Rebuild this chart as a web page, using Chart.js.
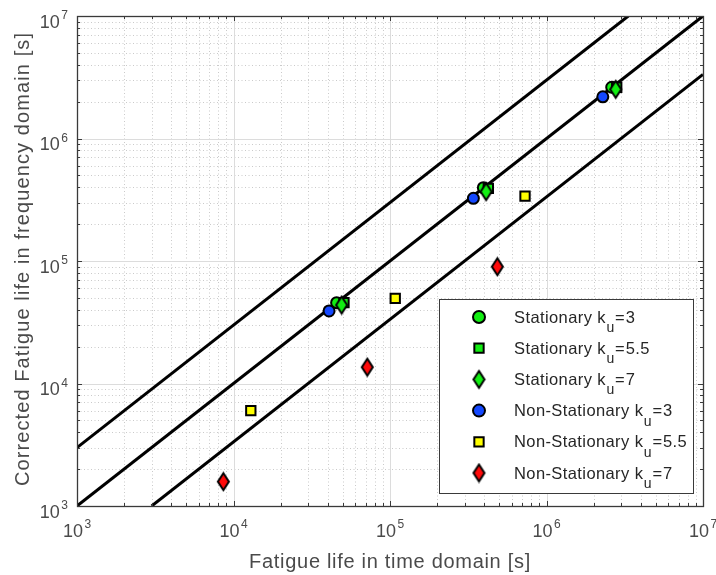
<!DOCTYPE html>
<html>
<head>
<meta charset="utf-8">
<title>Fatigue life: time vs frequency domain</title>
<script src="https://cdn.jsdelivr.net/npm/chart.js@4.4.0/dist/chart.umd.min.js"></script>
<style>
  html, body { margin: 0; padding: 0; background: #ffffff; }
  #wrap { width: 716px; height: 575px; }
</style>
</head>
<body>
<div id="wrap"><canvas id="chart" width="716" height="575"></canvas></div>
<script>
// ---- data -----------------------------------------------------------------
// Legend entries: signal type and kurtosis k_u
const seriesGroups   = ['Stationary', 'Stationary', 'Stationary',
                        'Non-Stationary', 'Non-Stationary', 'Non-Stationary'];
const kurtosisLabels = ['3', '5.5', '7', '3', '5.5', '7'];

// Fatigue life in time domain [s] (x) and corrected life in frequency domain [s] (y)
const stationaryK3X    = [4.56e4, 3.95e5, 2.61e6];
const stationaryK3Y    = [4.57e4, 3.97e5, 2.62e6];
const stationaryK55X   = [5.08e4, 4.25e5, 2.81e6];
const stationaryK55Y   = [4.57e4, 3.92e5, 2.62e6];
const stationaryK7X    = [4.91e4, 4.11e5, 2.77e6];
const stationaryK7Y    = [4.37e4, 3.68e5, 2.52e6];
const nonStationaryK3X  = [4.08e4, 3.41e5, 2.29e6];
const nonStationaryK3Y  = [3.91e4, 3.25e5, 2.19e6];
const nonStationaryK55X = [1.29e4, 1.08e5, 7.29e5];
const nonStationaryK55Y = [6.0e3, 4.96e4, 3.39e5];
const nonStationaryK7X  = [8.61e3, 7.16e4, 4.85e5];
const nonStationaryK7Y  = [1.58e3, 1.36e4, 8.98e4];

// Reference lines: factor-of-3 band around the 1:1 line
const upperBandX = [1e3, 3.333e6];
const upperBandY = [3e3, 1e7];
const equalityX  = [1e3, 1e7];
const equalityY  = [1e3, 1e7];
const lowerBandX = [3e3, 1e7];
const lowerBandY = [1e3, 3.333e6];

// Axis ticks (decades) and minor tick multipliers
const axisMin = 1e3;
const axisMax = 1e7;
const majorTicks = [1e3, 1e4, 1e5, 1e6, 1e7];
const minorSteps = [2, 3, 4, 5, 6, 7, 8, 9];

const xTitle = 'Fatigue life in time domain [s]';
const yTitle = 'Corrected Fatigue life in frequency domain [s]';

// ---- helpers ----------------------------------------------------------------
const zip = (xs, ys) => xs.map((x, i) => ({ x: x, y: ys[i] }));
const minorTicks = [];
majorTicks.slice(0, -1).forEach(d => minorSteps.forEach(s => minorTicks.push(d * s)));

const FONT = '"Liberation Sans", Arial, Helvetica, sans-serif';
const TEXT = '#4a4a4a';

// Tall diamond marker drawn once into a small canvas
function diamond(fill, w, h) {
  const c = document.createElement('canvas');
  c.width = w + 4; c.height = h + 4;
  const g = c.getContext('2d');
  const cx = c.width / 2, cy = c.height / 2;
  g.beginPath();
  g.moveTo(cx, cy - h / 2);
  g.lineTo(cx + w / 2, cy);
  g.lineTo(cx, cy + h / 2);
  g.lineTo(cx - w / 2, cy);
  g.closePath();
  g.fillStyle = fill; g.fill();
  g.lineWidth = 2; g.strokeStyle = '#000000'; g.lineJoin = 'miter';
  g.stroke();
  return c;
}

const GREEN = '#12ee12', BLUE = '#1448ff', YELLOW = '#ffff00', RED = '#ff0a0a';

function markerSet(idx, xs, ys, style, fill) {
  const ds = {
    type: 'scatter',
    label: seriesGroups[idx] + ' k_u=' + kurtosisLabels[idx],
    data: zip(xs, ys),
    backgroundColor: fill,
    borderColor: '#000000',
    borderWidth: 2,
    order: 6 - idx,
    showLine: false
  };
  if (style === 'circle') { ds.pointStyle = 'circle'; ds.pointRadius = 5.5; }
  if (style === 'rect')   { ds.pointStyle = 'rect'; ds.pointRadius = 6.6; }
  if (style === 'diamond') { ds.pointStyle = diamond(fill, 11, 17); ds.pointRadius = 8; }
  ds.pointHoverRadius = ds.pointRadius;
  return ds;
}

function refLine(xs, ys) {
  return {
    type: 'line',
    label: '',
    data: zip(xs, ys),
    borderColor: '#000000',
    borderWidth: 3,
    pointRadius: 0,
    fill: false,
    order: 10,
    legendHidden: true
  };
}

// ---- axes, grid and labels --------------------------------------------------
const axesPlugin = {
  id: 'matlabAxes',
  beforeDatasetsDraw(chart) {
    const { ctx, chartArea: a, scales: { x, y } } = chart;
    ctx.save();
    ctx.lineWidth = 1;
    // minor grid: dotted
    ctx.strokeStyle = '#cacaca';
    ctx.setLineDash([1, 2.5]);
    minorTicks.forEach(v => {
      const px = Math.round(x.getPixelForValue(v)) + 0.5;
      ctx.beginPath(); ctx.moveTo(px, a.top); ctx.lineTo(px, a.bottom); ctx.stroke();
      const py = Math.round(y.getPixelForValue(v)) + 0.5;
      ctx.beginPath(); ctx.moveTo(a.left, py); ctx.lineTo(a.right, py); ctx.stroke();
    });
    // major grid: solid
    ctx.setLineDash([]);
    ctx.strokeStyle = '#dcdcdc';
    majorTicks.forEach(v => {
      const px = Math.round(x.getPixelForValue(v)) + 0.5;
      ctx.beginPath(); ctx.moveTo(px, a.top); ctx.lineTo(px, a.bottom); ctx.stroke();
      const py = Math.round(y.getPixelForValue(v)) + 0.5;
      ctx.beginPath(); ctx.moveTo(a.left, py); ctx.lineTo(a.right, py); ctx.stroke();
    });
    ctx.restore();
  },
  afterDatasetsDraw(chart) {
    const { ctx, chartArea: a, scales: { x, y } } = chart;
    ctx.save();
    ctx.strokeStyle = '#3a3a3a';
    ctx.lineWidth = 1;
    // inward ticks on all four sides
    const tick = (v, len) => {
      const px = Math.round(x.getPixelForValue(v)) + 0.5;
      const py = Math.round(y.getPixelForValue(v)) + 0.5;
      ctx.beginPath();
      ctx.moveTo(px, a.bottom); ctx.lineTo(px, a.bottom - len);
      ctx.moveTo(px, a.top);    ctx.lineTo(px, a.top + len);
      ctx.moveTo(a.left, py);   ctx.lineTo(a.left + len, py);
      ctx.moveTo(a.right, py);  ctx.lineTo(a.right - len, py);
      ctx.stroke();
    };
    minorTicks.forEach(v => tick(v, 3));
    majorTicks.forEach(v => tick(v, 5));
    // axes box
    ctx.lineWidth = 1.3;
    ctx.strokeRect(Math.round(a.left) + 0.5, Math.round(a.top) + 0.5,
                   Math.round(a.right - a.left), Math.round(a.bottom - a.top));

    // tick labels 10^n
    ctx.fillStyle = TEXT;
    ctx.textBaseline = 'alphabetic';
    majorTicks.forEach(v => {
      const e = String(Math.round(Math.log10(v)));
      ctx.font = '12px ' + FONT;
      const we = ctx.measureText(e).width;
      ctx.font = '18px ' + FONT;
      const wb = ctx.measureText('10').width;
      // y axis, right aligned
      const py = y.getPixelForValue(v);
      const right = a.left - 9;
      ctx.textAlign = 'left';
      ctx.font = '12px ' + FONT;
      ctx.fillText(e, right - we, py + 3);
      ctx.font = '18px ' + FONT;
      ctx.fillText('10', right - we - 1.5 - wb, py + 11.5);
      // x axis, centred
      const px = x.getPixelForValue(v);
      const total = wb + 1.5 + we;
      const left = px - total / 2;
      ctx.fillText('10', left, a.bottom + 31);
      ctx.font = '12px ' + FONT;
      ctx.fillText(e, left + wb + 1.5, a.bottom + 22);
    });

    // axis titles
    ctx.font = '20px ' + FONT;
    ctx.letterSpacing = '0.7px';
    ctx.textAlign = 'center';
    ctx.fillText(xTitle, (a.left + a.right) / 2, 568);
    ctx.letterSpacing = '1.1px';
    ctx.translate(29, (a.top + a.bottom) / 2 - 2);
    ctx.rotate(-Math.PI / 2);
    ctx.fillText(yTitle, 0, 0);
    ctx.restore();
  },
  afterDraw(chart) {
    // legend with subscripted k_u
    const { ctx } = chart;
    const box = { x: 439, y: 299, w: 254, h: 194 };
    ctx.save();
    ctx.fillStyle = '#ffffff';
    ctx.fillRect(box.x, box.y, box.w, box.h);
    ctx.strokeStyle = '#3a3a3a';
    ctx.lineWidth = 1;
    ctx.strokeRect(box.x + 0.5, box.y + 0.5, box.w, box.h);
    const sets = chart.data.datasets.filter(d => !d.legendHidden);
    sets.forEach((d, i) => {
      const cy = 317 + i * 31.2;
      const mx = 479;
      ctx.save();
      ctx.fillStyle = d.backgroundColor;
      ctx.strokeStyle = '#000000';
      ctx.lineWidth = 2;
      if (typeof d.pointStyle === 'string') {
        Chart.helpers.drawPoint(ctx, {
          pointStyle: d.pointStyle,
          radius: d.pointStyle === 'circle' ? 6 : d.pointRadius,
          rotation: 0,
          borderWidth: 2
        }, mx, cy);
      } else {
        const img = d.pointStyle;
        ctx.drawImage(img, mx - img.width / 2, cy - img.height / 2);
      }
      ctx.restore();

      const idx = i;
      let tx = 514;
      const by = cy + 5.5;
      ctx.fillStyle = '#262626';
      ctx.textAlign = 'left';
      ctx.letterSpacing = '0.4px';
      ctx.font = '16.5px ' + FONT;
      const base = seriesGroups[idx] + ' k';
      ctx.fillText(base, tx, by);
      tx += ctx.measureText(base).width + 0.5;
      ctx.font = '14px ' + FONT;
      ctx.fillText('u', tx, by + 9.4);
      tx += ctx.measureText('u').width + 0.5;
      ctx.font = '16.5px ' + FONT;
      ctx.fillText('=', tx, by);
      tx += ctx.measureText('=').width + 0.5;
      ctx.fillText(kurtosisLabels[idx], tx, by);
    });
    ctx.restore();
  }
};

// ---- chart --------------------------------------------------------------------
new Chart(document.getElementById('chart'), {
  type: 'scatter',
  data: {
    datasets: [
      markerSet(0, stationaryK3X, stationaryK3Y, 'circle', GREEN),
      markerSet(1, stationaryK55X, stationaryK55Y, 'rect', GREEN),
      markerSet(2, stationaryK7X, stationaryK7Y, 'diamond', GREEN),
      markerSet(3, nonStationaryK3X, nonStationaryK3Y, 'circle', BLUE),
      markerSet(4, nonStationaryK55X, nonStationaryK55Y, 'rect', YELLOW),
      markerSet(5, nonStationaryK7X, nonStationaryK7Y, 'diamond', RED),
      refLine(upperBandX, upperBandY),
      refLine(equalityX, equalityY),
      refLine(lowerBandX, lowerBandY)
    ]
  },
  options: {
    responsive: false,
    animation: false,
    events: [],
    layout: { padding: { left: 77, top: 16, right: 13, bottom: 69 } },
    scales: {
      x: { type: 'logarithmic', min: axisMin, max: axisMax, display: false },
      y: { type: 'logarithmic', min: axisMin, max: axisMax, display: false }
    },
    plugins: {
      legend: { display: false },
      tooltip: { enabled: false }
    }
  },
  plugins: [axesPlugin]
});
</script>
</body>
</html>
